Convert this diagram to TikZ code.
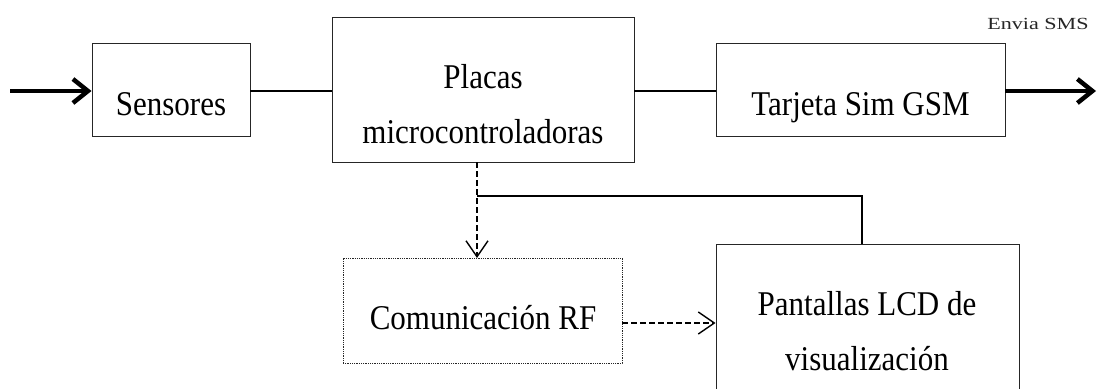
\documentclass[tikz,border=0pt]{standalone}
\usepackage{fontspec}
\setmainfont{Liberation Serif}
\usetikzlibrary{arrows.meta}
\newcommand{\tx}[1]{\scalebox{1}[1.12]{#1}}
\begin{document}
\begin{tikzpicture}[x=1pt,y=-1pt,
  box/.style={draw=black!85, line width=0.9pt, inner sep=0pt, fill=none},
  txt/.style={inner sep=0pt, anchor=base, font=\fontsize{31}{38}\selectfont},
  thickarrow/.style={line width=4.5pt, -{Straight Barb[length=15pt,width=24pt]}},
  dasharrow/.style={line width=1.4pt, dash pattern=on 6pt off 3pt, -{Straight Barb[length=16pt,width=22pt,line width=1.4pt]}},
  link/.style={line width=1.3pt}]
\useasboundingbox (0,0) rectangle (1097,388);
\clip (0,0) rectangle (1097,388);
% boxes
\node[box, minimum width=158pt, minimum height=93pt] (sens) at (171,89.5) {};
\node[box, minimum width=302pt, minimum height=145pt] (plac) at (483,89.5) {};
\node[box, minimum width=289pt, minimum height=93pt] (gsm) at (860.5,89.5) {};
\node[box, dash pattern=on 1pt off 0.8pt, minimum width=279pt, minimum height=105pt] (rf) at (482.5,310.5) {};
\node[box, minimum width=303pt, minimum height=176pt] (lcd) at (867.5,332) {};
% texts
\node[txt] (tsens) at (171,115) {\tx{Sensores}};
\node[txt] (tplac1) at (483,88) {\tx{Placas}};
\node[txt] (tplac2) at (483,143) {\tx{microcontroladoras}};
\node[txt] (tgsm) at (860.5,115) {\tx{Tarjeta Sim GSM}};
\node[txt] (trf) at (483,329) {\tx{Comunicación RF}};
\node[txt] (tlcd1) at (867,315) {\tx{Pantallas LCD de}};
\node[txt] (tlcd2) at (867,370) {\tx{visualización}};
\node[inner sep=0pt, anchor=base, text=black!85] (sms) at (1038,29)
  {\scalebox{1.3}[1]{\fontsize{17}{17}\selectfont Envia SMS}};
% coordinates
\coordinate (in) at (10,91);
\coordinate (out) at (1096,91);
\coordinate (dtop) at (477,162);
\coordinate (dbot) at (477,258);
\coordinate (junc) at (477,196);
\coordinate (lcdtop) at (862,244);
% connectors
\draw[thickarrow] (in) -- (sens.west |- in);
\draw[thickarrow] (gsm.east |- out) -- (out);
\draw[link] (sens.east |- in) -- (plac.west |- in);
\draw[link] (plac.east |- in) -- (gsm.west |- in);
\draw[dasharrow] (dtop) -- (dbot);
\draw[link] (junc) -- (junc -| lcdtop) -- (lcdtop);
\draw[dasharrow] (rf.east |- 0,323) -- (lcd.west |- 0,323);
\end{tikzpicture}
\end{document}
